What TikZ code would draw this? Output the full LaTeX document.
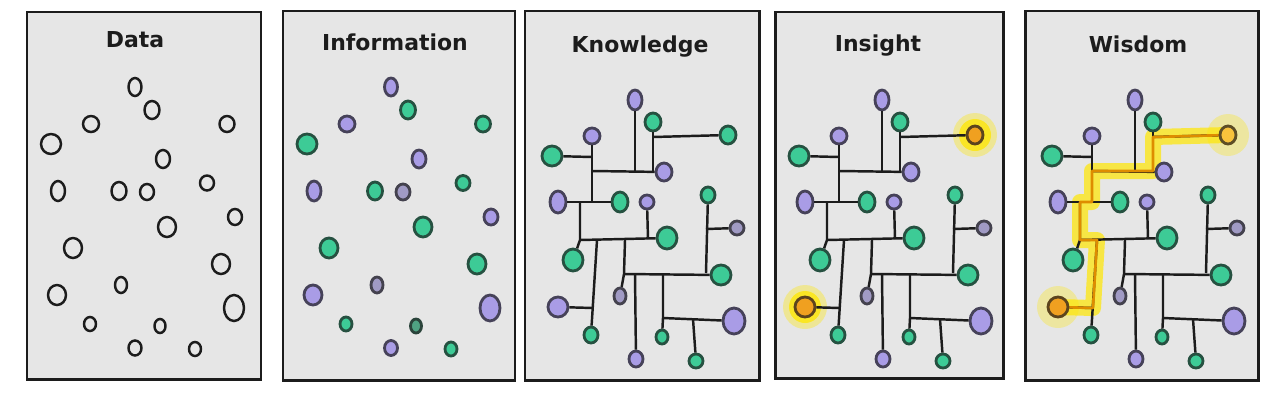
\documentclass[tikz,border=0pt]{standalone}
\usepackage{fontspec}
\setsansfont{DejaVu Sans}
\usetikzlibrary{shapes.geometric}
\definecolor{paper}{HTML}{E6E6E6}
\definecolor{ink}{HTML}{1C1C1C}
\definecolor{grn}{HTML}{3DCB96}
\definecolor{prp}{HTML}{A99CE6}
\definecolor{prpgr}{HTML}{A09AC4}
\definecolor{grndk}{HTML}{4FA383}
\definecolor{hot}{HTML}{F0A020}
\definecolor{hotlt}{HTML}{F8C23C}
\definecolor{glowc}{HTML}{FFE600}
\definecolor{route}{HTML}{DE8C00}
\pgfdeclarelayer{panels}
\pgfdeclarelayer{glow}
\pgfsetlayers{panels,glow,main}

\tikzset{
  panel/.style={draw=ink, line width=1.7pt, fill=paper},
  title/.style={font=\sffamily\bfseries\fontsize{12.5}{15}\selectfont, anchor=base, text=ink},
  blob/.style 2 args={ellipse, draw=ink, line width=1.6pt, inner sep=0pt,
    minimum width=#1*0.04cm, minimum height=#2*0.04cm},
  wire/.style={draw=ink, line width=1.4pt},
  halo/.style={fill=glowc, opacity=#1},
  trail/.style={draw=glowc, opacity=.7, line width=0.32cm, line join=round, line cap=round},
  routeline/.style={draw=route, line width=1.5pt, line join=round},
}

% #1 fill of k3, #2 fill of k15
\newcommand\network[2]{%
  \foreach \n/\x/\y/\rx/\ry/\c in {k1/635/100/7/10/prp, k2/653/122/8/9/grn, k3/728/135/8/9/#1,
      k4/592/136/8/8/prp, k5/552/156/10/10/grn, k6/664/172/8/9/prp, k7/558/202/8/11/prp,
      k8/620/202/8/10/grn, k9/647/202/7/7/prp, k10/708/195/7/8/grn, k11/737/228/7/7/prpgr,
      k12/667/238/10/11/grn, k13/573/260/10/11/grn, k14/721/275/10/10/grn, k15/558/307/10/10/#2,
      k16/620/296/6/8/prpgr, k17/734/321/11/13/prp, k18/591/335/7/8/grn, k19/662/337/6/7/grn,
      k20/636/359/7/8/prp, k21/696/361/7/7/grn}
    \node[blob={\rx}{\ry}, fill=\c, draw=\c!30!ink] (\n) at (\x,\y) {};
  \coordinate (a1) at (592,171);
  \coordinate (j1) at (635,171);
  \coordinate (j2) at (653,171);
  \coordinate (j3) at (653,137);
  \coordinate (j5) at (592,157);
  \coordinate (b1) at (592,202);
  \coordinate (c0) at (580,202);
  \coordinate (c1) at (580,240);
  \coordinate (c2) at (648,239);
  \coordinate (c3) at (597,240);
  \coordinate (c4) at (593,308);
  \coordinate (c5) at (625,240);
  \coordinate (d1) at (624,274);
  \coordinate (d2) at (706,273);
  \coordinate (d3) at (706,229);
  \coordinate (d4) at (635,274);
  \coordinate (d5) at (663,274);
  \coordinate (e1) at (663,318);
  \coordinate (e2) at (693,319);
  \draw[wire] (k1) -- (j1);
  \draw[wire] (a1) -- (k6);
  \draw[wire] (k2) -- (j2);
  \draw[wire] (j3) -- (k3);
  \draw[wire] (k4) -- (b1);
  \draw[wire] (k5) -- (j5);
  \draw[wire] (k7) -- (k8);
  \draw[wire] (c0) -- (c1) -- (k13);
  \draw[wire] (c1) -- (k12);
  \draw[wire] (k9) -- (c2);
  \draw[wire] (c3) -- (k18);
  \draw[wire] (k15) -- (c4);
  \draw[wire] (c5) -- (d1) -- (k16);
  \draw[wire] (d1) -- (k14);
  \draw[wire] (k10) -- (d2);
  \draw[wire] (d3) -- (k11);
  \draw[wire] (d4) -- (k20);
  \draw[wire] (d5) -- (e1) -- (k19);
  \draw[wire] (e1) -- (k17);
  \draw[wire] (e2) -- (k21);
}

\begin{document}
\begin{tikzpicture}[x=0.02cm, y=-0.02cm]
  \useasboundingbox (0,0) rectangle (1282,400);

  \begin{pgfonlayer}{panels}
    \draw[panel] (27,12) rectangle (261,379);
    \draw[panel] (283,11) rectangle (515,380);
    \draw[panel] (525,11) rectangle (759,380);
    \draw[panel] (775,12) rectangle (1003,378);
    \draw[panel] (1025,11) rectangle (1258,380);
  \end{pgfonlayer}

  \node[title] (tdata) at (135,47) {Data};
  \node[title] (tinfo) at (395,50) {Information};
  \node[title] (tknow) at (640,52) {Knowledge};
  \node[title] (tins) at (878,51) {Insight};
  \node[title] (twis) at (1138,52) {Wisdom};

  % scattered points, plain and coloured
  \foreach \x/\y/\rx/\ry/\c [count=\i] in {135/87/6.5/9/prp, 152/110/7.5/9/grn, 91/124/8/8/prp,
      227/124/7.5/8/grn, 51/144/10/10/grn, 163/159/7/9/prp, 58/191/7/10/prp, 119/191/7.5/9/grn,
      147/192/7/8/prpgr, 207/183/7/7.5/grn, 235/217/7/8/prp, 167/227/9/10/grn, 73/248/9/10/grn,
      221/264/9/10/grn, 57/295/9/10/prp, 121/285/6/8/prpgr, 234/308/10/13/prp, 90/324/6/7/grn,
      160/326/5.5/7/grndk, 135/348/6.5/7.5/prp, 195/349/6/7/grn}{
    \node[blob={\rx}{\ry}, line width=1.4pt] (data\i) at (\x,\y) {};
    \node[blob={\rx}{\ry}, fill=\c, draw=\c!30!ink] (info\i) at (\x+256,\y) {};
  }

  \begin{scope}[name prefix=kn-]
    \network{grn}{prp}
  \end{scope}

  \begin{scope}[shift={(247,0)}, name prefix=in-]
    \network{hot}{hot}
    \begin{pgfonlayer}{glow}
      \fill[halo=.35] (k3) circle[radius=0.44cm];
      \fill[halo=.75] (k3) circle[radius=0.32cm];
      \fill[halo=.35] (k15) circle[radius=0.44cm];
      \fill[halo=.75] (k15) circle[radius=0.32cm];
    \end{pgfonlayer}
  \end{scope}

  \begin{scope}[shift={(500,0)}, name prefix=wi-]
    \network{hotlt}{hot}
    \begin{pgfonlayer}{glow}
      \draw[trail] (k15.center) -- (c4) -- (c3) -- (c1) -- (c0) -- (b1) -- (a1)
        -- (j2) -- (j3) -- (k3.center);
      \fill[halo=.3] (k3) circle[radius=0.42cm];
      \fill[halo=.3] (k15) circle[radius=0.42cm];
    \end{pgfonlayer}
    \draw[routeline] (k15) -- (c4) -- (c3) -- (c1) -- (c0) -- (b1) -- (a1)
      -- (j2) -- (j3) -- (k3);
  \end{scope}
\end{tikzpicture}
\end{document}
